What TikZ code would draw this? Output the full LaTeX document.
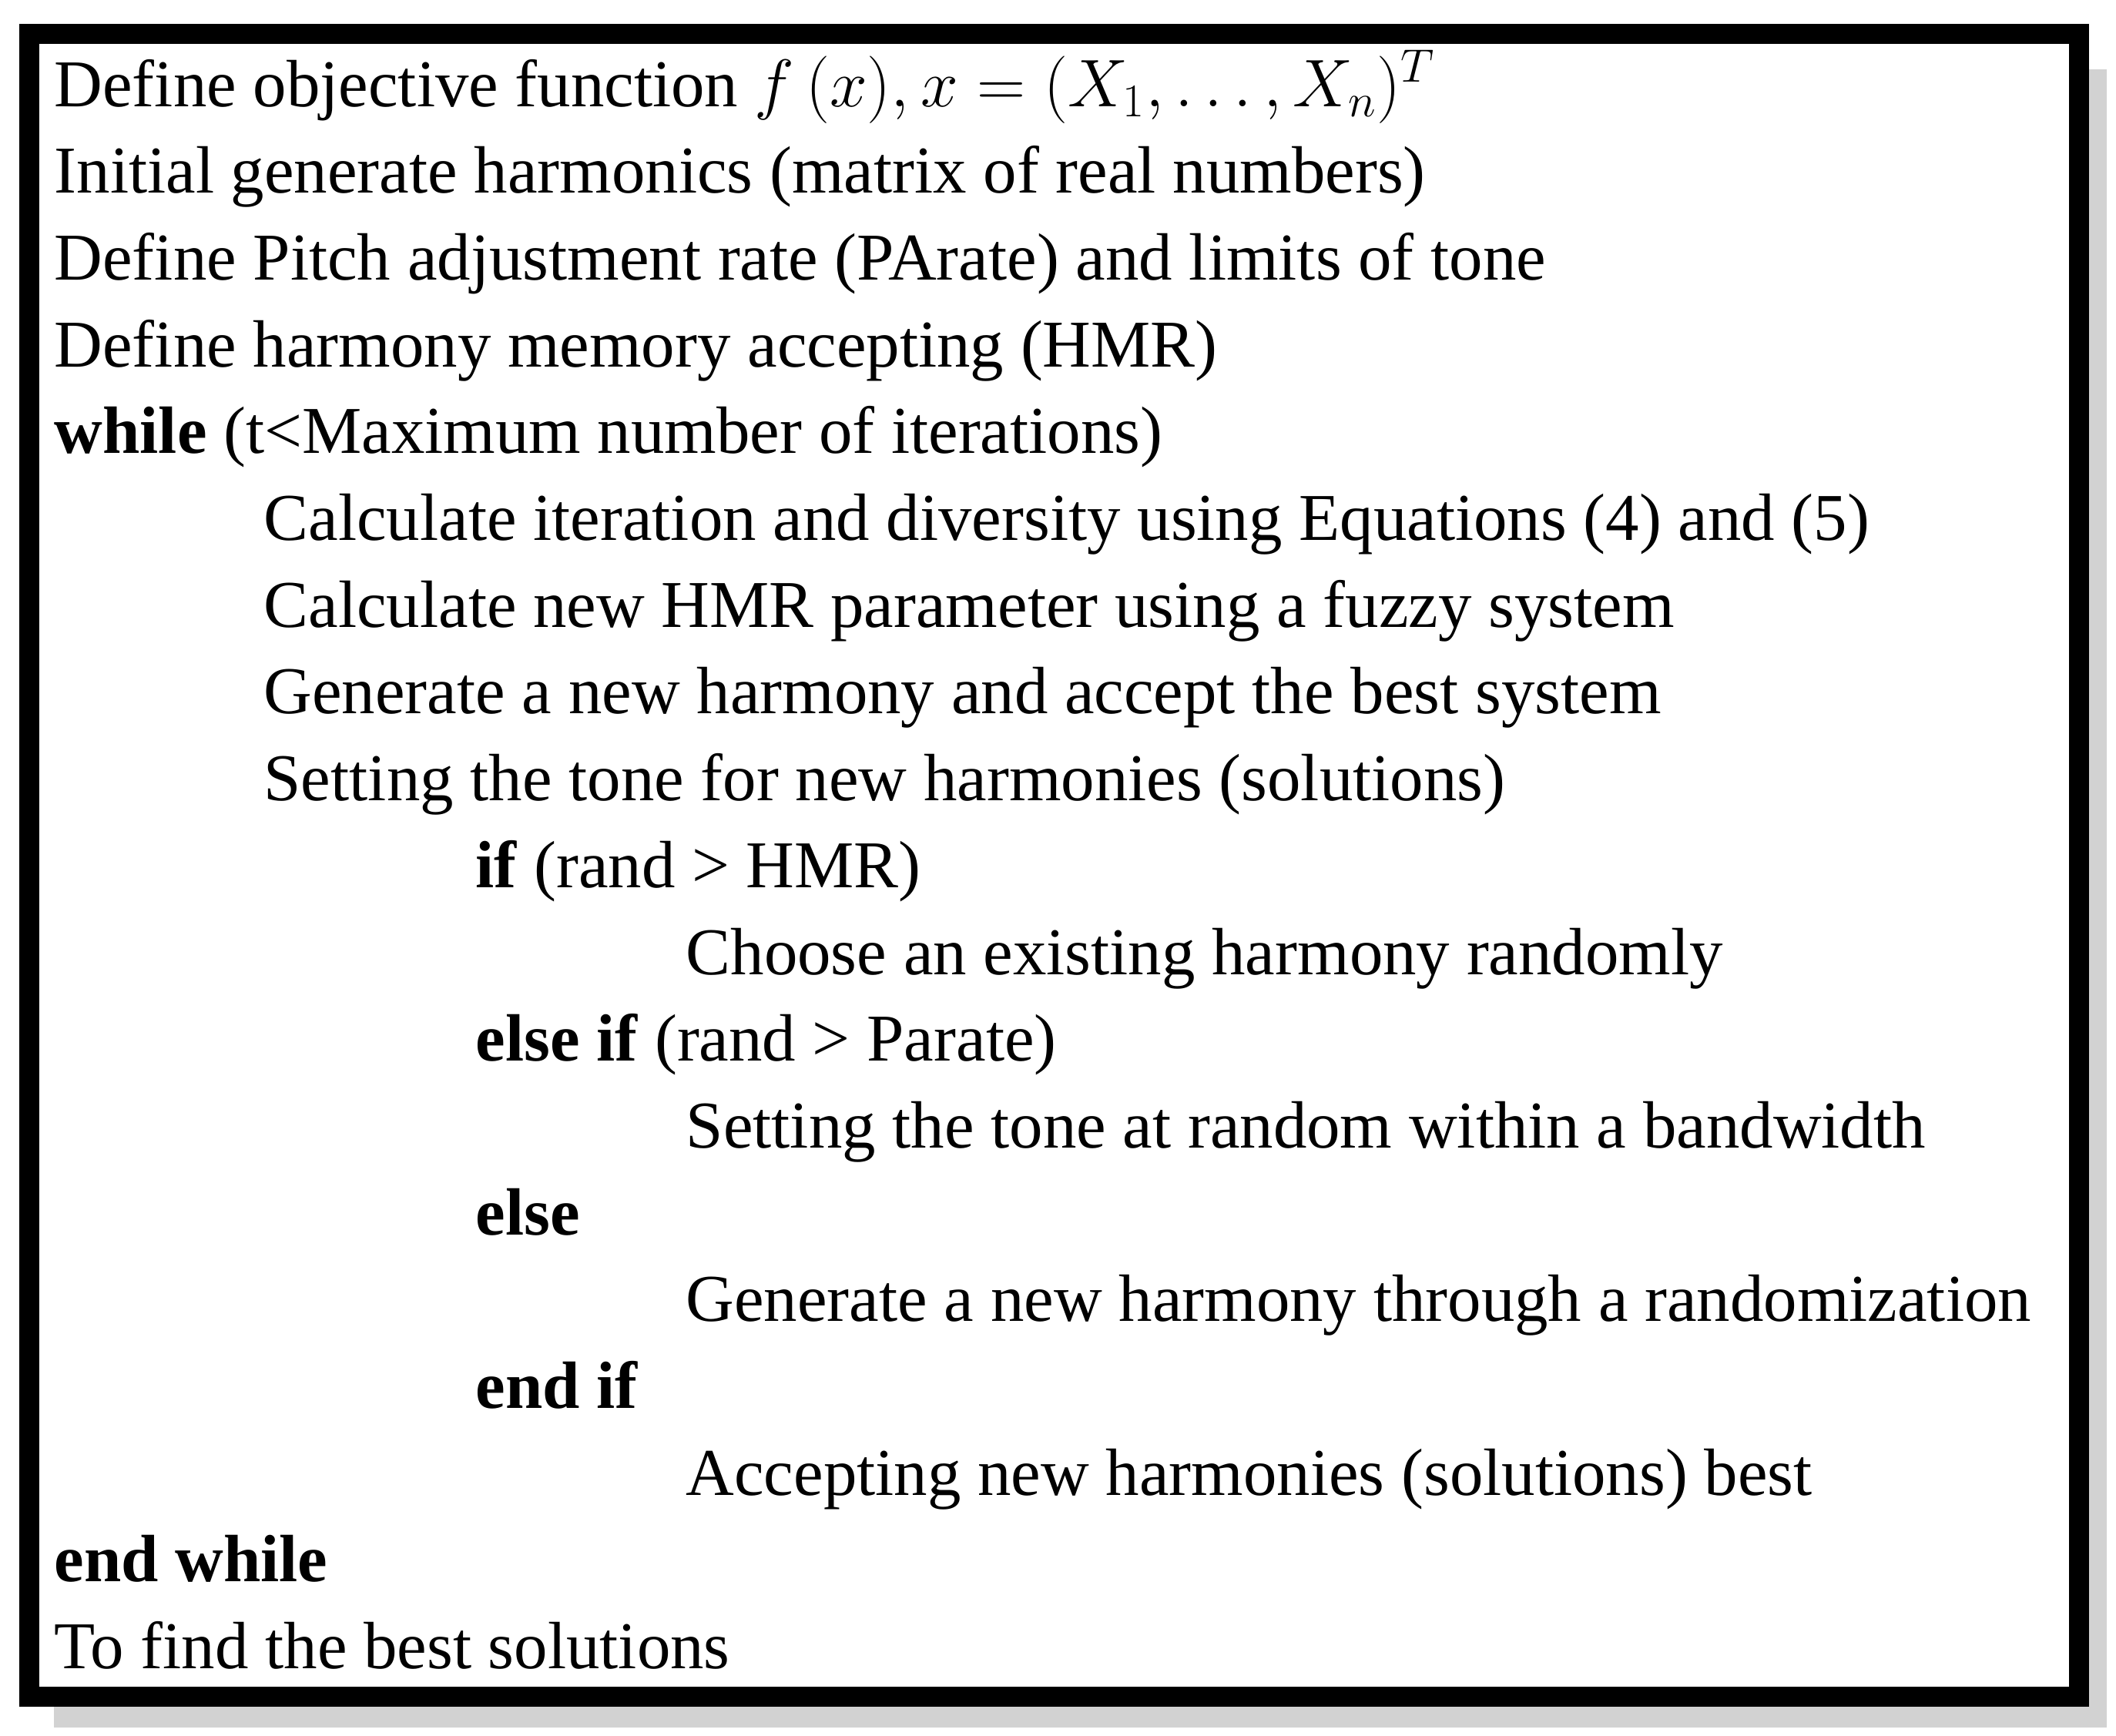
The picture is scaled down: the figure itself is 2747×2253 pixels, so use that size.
\documentclass[tikz,border=0pt]{standalone}
\usepackage{fontspec}
\setmainfont{Liberation Serif}
\begin{document}
\begin{tikzpicture}[x=0.01cm,y=-0.01cm,
  ln/.style={anchor=base west,inner sep=0pt,font=\fontsize{24.7}{29}\selectfont}]
\useasboundingbox (0,0) rectangle (2747,2253);
\fill[gray!35] (70,90) rectangle (2735,2243);
\fill[white] (0,0) rectangle (2712,2216);
\draw[line width=0.26cm] (38,44) rectangle (2699,2203);
\def\L#1#2#3{\node[ln] (n#1) at (#2,{138+112.7*#1}) {#3};}
\L{0}{70}{Define objective function $f\,(x), x=(X_1,\ldots,X_n)^T$}
\L{1}{70}{Initial generate harmonics (matrix of real numbers)}
\L{2}{70}{Define Pitch adjustment rate (PArate) and limits of tone}
\L{3}{70}{Define harmony memory accepting (HMR)}
\L{4}{70}{\textbf{while} (t<Maximum number of iterations)}
\L{5}{342}{Calculate iteration and diversity using Equations (4) and (5)}
\L{6}{342}{Calculate new HMR parameter using a fuzzy system}
\L{7}{342}{Generate a new harmony and accept the best system}
\L{8}{342}{Setting the tone for new harmonies (solutions)}
\L{9}{617}{\textbf{if} (rand > HMR)}
\L{10}{890}{Choose an existing harmony randomly}
\L{11}{617}{\textbf{else if} (rand > Parate)}
\L{12}{890}{Setting the tone at random within a bandwidth}
\L{13}{617}{\textbf{else}}
\L{14}{890}{Generate a new harmony through a randomization}
\L{15}{617}{\textbf{end if}}
\L{16}{890}{Accepting new harmonies (solutions) best}
\L{17}{70}{\textbf{end while}}
\L{18}{70}{To find the best solutions}
\end{tikzpicture}
\end{document}
